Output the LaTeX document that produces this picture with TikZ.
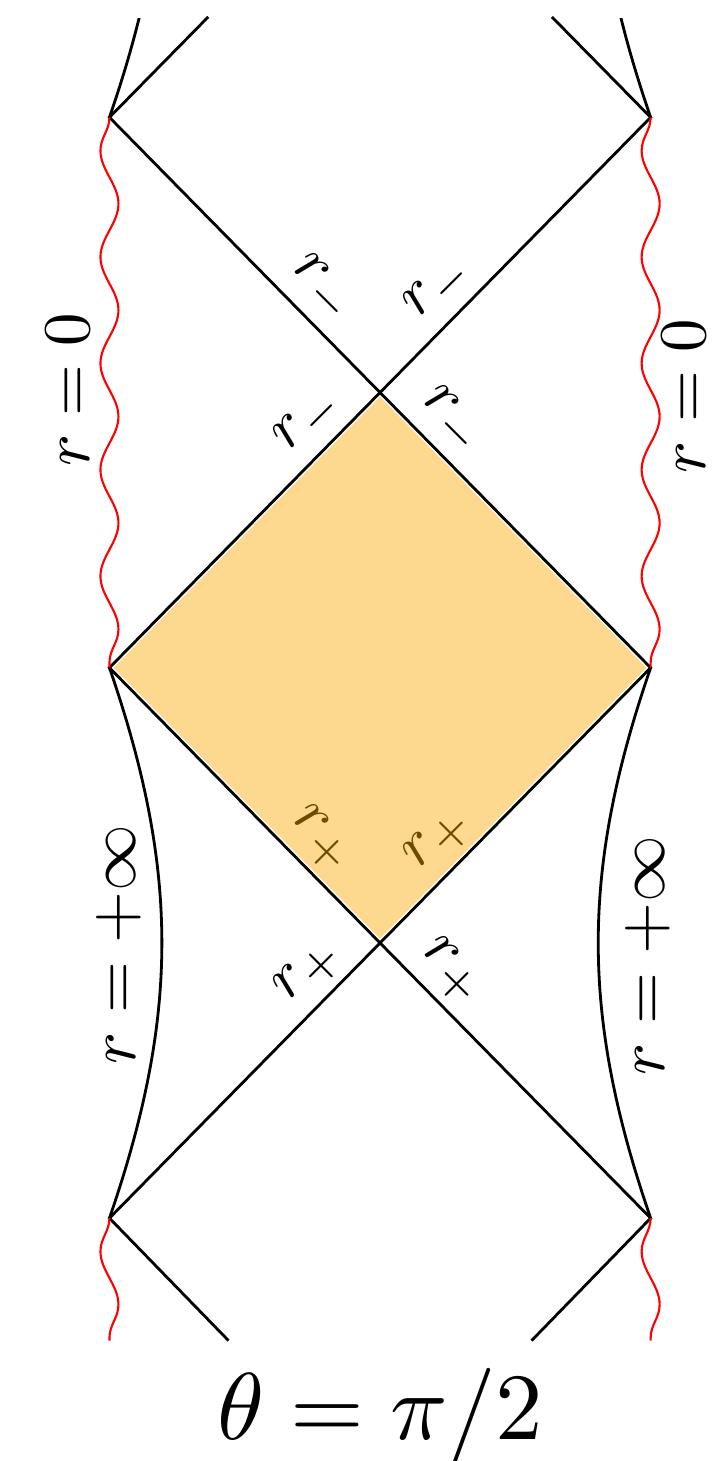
\documentclass[tikz,border=0pt]{standalone}
\usetikzlibrary{decorations.pathmorphing}
\definecolor{horizon}{RGB}{248,169,0}

\begin{document}
\begin{tikzpicture}[
  x=1.353cm, y=1.376cm,
  edge/.style={thick},
  wavy/.style={red, semithick, decorate, decoration={snake, amplitude=0.09cm, segment length=1.064cm, mirror}},
  hlabel/.style={inner sep=0pt, scale=1.8},
  blabel/.style={inner sep=0pt, rotate=90, scale=1.9}
]
\useasboundingbox (-2.809,-5.765) rectangle (2.490,4.853);

% corners and crossings
\coordinate (tl) at (-2,4);
\coordinate (tr) at (2,4);
\coordinate (ml) at (-2,0);
\coordinate (mr) at (2,0);
\coordinate (bl) at (-2,-4);
\coordinate (br) at (2,-4);
\coordinate (ct) at (0,2);
\coordinate (cb) at (0,-2);
% free ends
\coordinate (tlend) at (-1.27,4.73);
\coordinate (trend) at (1.27,4.73);
\coordinate (blend) at (-1.12,-4.89);
\coordinate (brend) at (1.12,-4.89);
\coordinate (tlnext) at (-2,8);
\coordinate (trnext) at (2,8);
\coordinate (blred) at (-2,-4.89);
\coordinate (brred) at (2,-4.89);

% horizon labels
\node[hlabel, rotate=-45] (rm1) at (-0.435,2.75) {$r_-$};
\node[hlabel, rotate=45] (rm2) at (0.435,2.75) {$r_-$};
\node[hlabel, rotate=45] (rm3) at (-0.525,1.79) {$r_-$};
\node[hlabel, rotate=-45] (rm4) at (0.525,1.79) {$r_-$};
\node[hlabel, rotate=-45] (rp1) at (-0.435,-1.25) {$r_+$};
\node[hlabel, rotate=45] (rp2) at (0.435,-1.25) {$r_+$};
\node[hlabel, rotate=45] (rp3) at (-0.525,-2.21) {$r_+$};
\node[hlabel, rotate=-45] (rp4) at (0.525,-2.21) {$r_+$};

% boundary labels
\node[blabel] (sing1) at (-2.31,2.02) {$r=0$};
\node[blabel] (sing2) at (2.25,1.975) {$r=0$};
\node[blabel] (inf1) at (-1.93,-2.01) {$r=+\infty$};
\node[blabel] (inf2) at (1.98,-2.09) {$r=+\infty$};

\node[scale=2.7, anchor=base] (title) at (0,-5.612) {$\theta=\pi/2$};

% exterior region
\filldraw[fill=horizon, fill opacity=0.44, draw=white, line width=1.6pt] (ml) -- (ct) -- (mr) -- (cb) -- cycle;

\draw[edge] (tlend) -- (tl) -- (mr) -- (bl) -- (blend);
\draw[edge] (trend) -- (tr) -- (ml) -- (br) -- (brend);
\draw[edge] (bl) to[bend right=19] (ml);
\draw[edge] (br) to[bend left=19] (mr);
\begin{scope}
  \clip (-3,4) rectangle (3,4.72);
  \draw[edge] (tl) to[bend right=19] (tlnext);
  \draw[edge] (tr) to[bend left=19] (trnext);
\end{scope}

% singularities
\draw[wavy] (tl) -- (ml);
\draw[wavy] (tr) -- (mr);
\draw[wavy] (bl) -- (blred);
\draw[wavy] (br) -- (brred);
\end{tikzpicture}
\end{document}
